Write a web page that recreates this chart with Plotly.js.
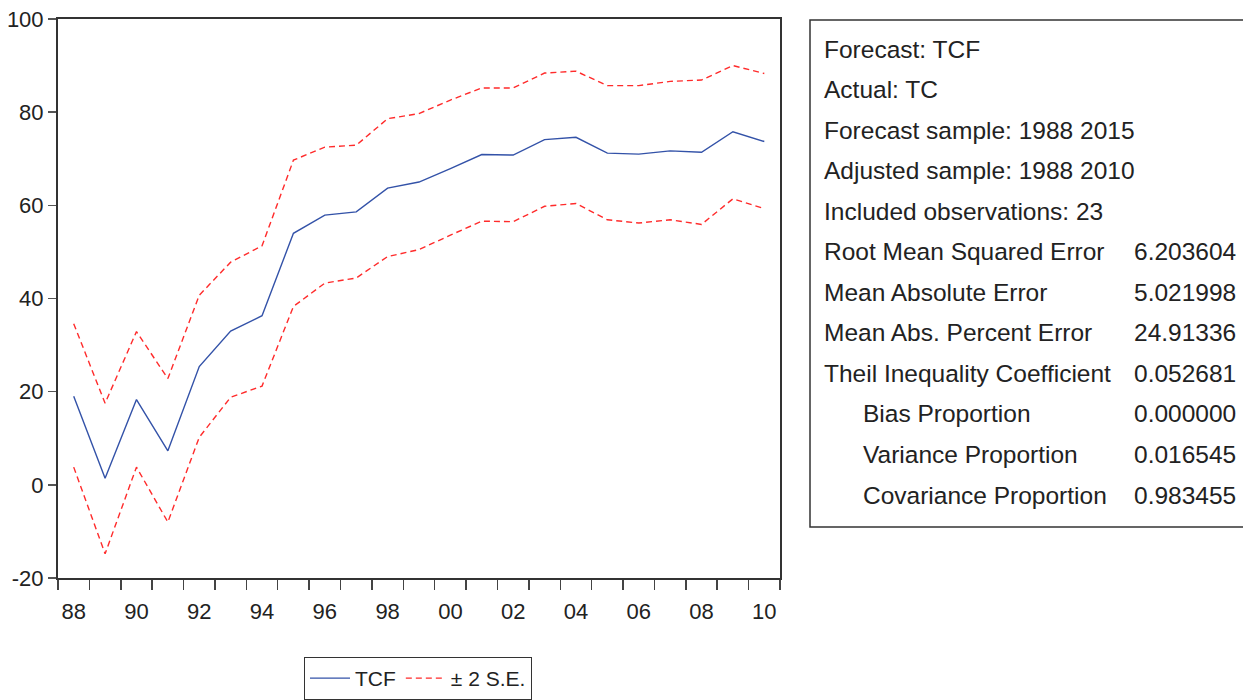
<!DOCTYPE html>
<html>
<head>
<meta charset="utf-8">
<script src="https://cdn.plot.ly/plotly-3.0.1.min.js"></script>
<style>
  html, body { margin: 0; padding: 0; background: #fff; }
  #chart { width: 1243px; height: 700px; }
</style>
</head>
<body>
<div id="chart"></div>
<script>
// Forecast of TC (series TCF) with a +/- 2 standard error band, 1988-2010
const years = [1988, 1989, 1990, 1991, 1992, 1993, 1994, 1995, 1996, 1997, 1998, 1999,
               2000, 2001, 2002, 2003, 2004, 2005, 2006, 2007, 2008, 2009, 2010];

const tcf = [19.0, 1.4, 18.3, 7.3, 25.4, 33.0, 36.3, 54.0, 57.9, 58.6, 63.7, 65.0,
             67.9, 70.9, 70.8, 74.1, 74.6, 71.2, 71.0, 71.7, 71.4, 75.8, 73.7];

const upperSE = [34.6, 17.5, 32.9, 22.8, 40.7, 47.8, 51.3, 69.7, 72.5, 72.9, 78.6, 79.7,
                 82.6, 85.2, 85.2, 88.4, 88.8, 85.7, 85.7, 86.6, 86.9, 90.0, 88.3];

const lowerSE = [3.8, -14.8, 3.8, -8.0, 10.2, 18.8, 21.2, 38.3, 43.3, 44.4, 49.0, 50.5,
                 53.6, 56.6, 56.5, 59.8, 60.4, 56.9, 56.2, 56.9, 55.9, 61.4, 59.3];

const xTickYears = [1988, 1990, 1992, 1994, 1996, 1998, 2000, 2002, 2004, 2006, 2008, 2010];
const xTickText  = ['88', '90', '92', '94', '96', '98', '00', '02', '04', '06', '08', '10'];
const yTickVals  = [-20, 0, 20, 40, 60, 80, 100];
const yTickText  = ['-20', '0', '20', '40', '60', '80', '100'];

// Forecast evaluation statistics
const statLabels = ['Forecast: TCF', 'Actual: TC', 'Forecast sample: 1988 2015',
                    'Adjusted sample: 1988 2010', 'Included observations: 23',
                    'Root Mean Squared Error', 'Mean Absolute Error',
                    'Mean Abs. Percent Error', 'Theil Inequality Coefficient',
                    'Bias Proportion', 'Variance Proportion', 'Covariance Proportion'];
const statValues = ['', '', '', '', '', '6.203604', '5.021998', '24.91336',
                    '0.052681', '0.000000', '0.016545', '0.983455'];
const statIndented = [false, false, false, false, false, false, false, false, false,
                      true, true, true];

// year boundaries where the x tick marks sit
const yearEdges = years.map(y => y - 0.5).concat([years[years.length - 1] + 0.5]);

const FONT = '"Liberation Sans", Arial, Helvetica, sans-serif';
const TEXT = '#222222';
const AXIS = '#333333';

// plot area in pixels, used to place the statistics panel
const W = 1243, H = 700;
const plotL = 58, plotR = 780, plotT = 19, plotB = 578;
const px = x => (x - plotL) / (plotR - plotL);
const py = y => (plotB - y) / (plotB - plotT);

const traces = [
  {
    x: years, y: tcf, type: 'scatter', mode: 'lines', name: 'TCF',
    line: { color: '#3352a8', width: 1.4 }
  },
  {
    x: years, y: upperSE, type: 'scatter', mode: 'lines', name: '\u00b1 2 S.E.',
    line: { color: '#ff2b2b', width: 1.4, dash: '6px,4px' }
  },
  {
    x: years, y: lowerSE, type: 'scatter', mode: 'lines', name: 'lower', showlegend: false,
    line: { color: '#ff2b2b', width: 1.4, dash: '6px,4px' }
  }
];

const annotations = [];
const rowTop = 48, rowStep = 40.55;
statLabels.forEach((lab, i) => {
  const yc = rowTop + rowStep * i;
  annotations.push({
    xref: 'paper', yref: 'paper', x: px(statIndented[i] ? 861 : 822), y: py(yc + 1),
    xanchor: 'left', yanchor: 'middle', text: lab, showarrow: false,
    font: { family: FONT, size: 24.5, color: TEXT }
  });
  if (statValues[i]) {
    annotations.push({
      xref: 'paper', yref: 'paper', x: px(1238), y: py(yc + 1),
      xanchor: 'right', yanchor: 'middle', text: statValues[i], showarrow: false,
      font: { family: FONT, size: 24.5, color: TEXT }
    });
  }
});

const layout = {
  width: W, height: H,
  margin: { l: plotL, r: W - plotR, t: plotT, b: H - plotB, pad: 0, autoexpand: false },
  paper_bgcolor: '#ffffff', plot_bgcolor: '#ffffff',
  showlegend: true,
  legend: {
    orientation: 'h', xref: 'container', yref: 'container',
    x: 418 / W, xanchor: 'center', y: (H - 657) / H, yanchor: 'top',
    bordercolor: AXIS, borderwidth: 1, bgcolor: '#ffffff',
    font: { family: FONT, size: 21, color: TEXT },
    itemwidth: 40, tracegroupgap: 0
  },
  xaxis: {
    range: [1987.5, 2010.5], fixedrange: true,
    tickmode: 'array', tickvals: xTickYears, ticktext: xTickText,
    ticks: 'outside', ticklen: 0, tickcolor: AXIS,
    ticklabelstandoff: 13,
    minor: { tickmode: 'array', tickvals: yearEdges, ticks: 'outside', ticklen: 10,
             tickwidth: 1.5, tickcolor: '#444444', showgrid: false },
    tickfont: { family: FONT, size: 22, color: TEXT },
    showgrid: false, zeroline: false,
    showline: true, linecolor: AXIS, linewidth: 2, mirror: true
  },
  yaxis: {
    range: [-20, 100], fixedrange: true,
    tickmode: 'array', tickvals: yTickVals, ticktext: yTickText,
    ticks: 'outside', ticklen: 8, tickwidth: 1.5, tickcolor: '#555555',
    tickfont: { family: FONT, size: 22, color: TEXT },
    showgrid: false, zeroline: false,
    showline: true, linecolor: AXIS, linewidth: 2, mirror: true
  },
  shapes: [
    {
      type: 'rect', xref: 'paper', yref: 'paper',
      x0: px(810), x1: px(1260), y0: py(527), y1: py(20),
      line: { color: AXIS, width: 1.5 }, fillcolor: 'rgba(0,0,0,0)'
    }
  ],
  annotations: annotations
};

Plotly.newPlot('chart', traces, layout, { displayModeBar: false, staticPlot: true });
</script>
</body>
</html>
